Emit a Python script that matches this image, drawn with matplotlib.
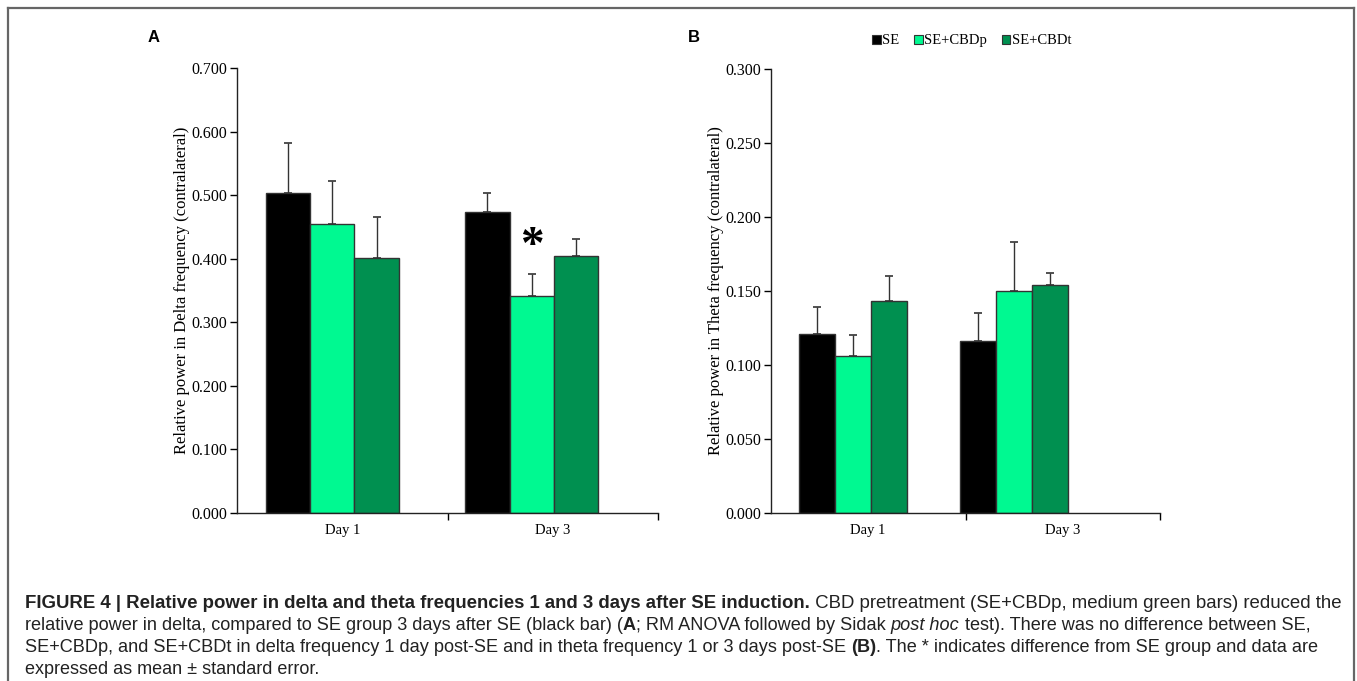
import matplotlib
matplotlib.use('Agg')
import matplotlib.pyplot as plt
from matplotlib.lines import Line2D
from matplotlib.patches import Patch
import numpy as np

# data
days = ['Day 1', 'Day 3']
groups = ['SE', 'SE+CBDp', 'SE+CBDt']
colors = ['#000000', '#00f991', '#009050']

delta_mean = [[0.503, 0.474], [0.454, 0.341], [0.401, 0.405]]
delta_err = [[0.079, 0.029], [0.068, 0.035], [0.064, 0.026]]

theta_mean = [[0.121, 0.116], [0.106, 0.150], [0.143, 0.154]]
theta_err = [[0.018, 0.019], [0.014, 0.033], [0.017, 0.008]]

fig = plt.figure(figsize=(13.57, 6.81), dpi=100)

serif = 'Liberation Serif'
sans = 'Liberation Sans'


def draw_panel(ax, means, errs, ymax, step, ylabel, offsets, width):
    x = np.arange(len(days))
    for i, g in enumerate(groups):
        pos = x + np.array(offsets) + (i - 1) * width
        ax.bar(pos, means[i], width=width, color=colors[i], edgecolor='#333333',
               linewidth=1.0, label=g, zorder=2)
        ax.errorbar(pos, means[i], yerr=[np.zeros(len(days)), errs[i]], fmt='none',
                    ecolor='#333333', elinewidth=1.0, capsize=3, capthick=1.2, zorder=1)
    ax.set_xlim(-0.5, 1.5)
    ax.set_ylim(0, ymax)
    ax.set_yticks(np.arange(0, ymax + step / 2, step))
    ax.set_yticklabels(['%.3f' % v for v in np.arange(0, ymax + step / 2, step)],
                       fontfamily=serif, fontsize=11.5)
    ax.set_xticks(x)
    ax.set_xticklabels(days, fontfamily=serif, fontsize=10.5)
    ax.set_xticks([0.5, 1.5], minor=True)
    ax.tick_params(axis='x', which='major', length=0, pad=8)
    ax.tick_params(axis='x', which='minor', length=5, direction='out', width=1)
    ax.tick_params(axis='y', length=5, direction='out', width=1, pad=2)
    for s in ['top', 'right']:
        ax.spines[s].set_visible(False)
    for s in ['left', 'bottom']:
        ax.spines[s].set_linewidth(1.0)
        ax.spines[s].set_color('#222222')
    ax.set_ylabel(ylabel, fontfamily=serif, fontsize=12, labelpad=1)
    return x


axA = fig.add_axes([0.1747, 0.2467, 0.3102, 0.6535])
xA = draw_panel(axA, delta_mean, delta_err, 0.7, 0.1,
                'Relative power in Delta frequency (contralateral)', [-0.048, -0.10], 0.211)
# significance mark over SE+CBDp day 3
axA.text(xA[1] - 0.10, 0.418, '*', fontsize=34, fontfamily=serif, fontweight='bold',
         ha='center', va='center')

axB = fig.add_axes([0.568, 0.2467, 0.287, 0.652])
draw_panel(axB, theta_mean, theta_err, 0.3, 0.05,
           'Relative power in Theta frequency (contralateral)', [-0.08, -0.25], 0.185)

handles = [Patch(facecolor=c, edgecolor='#333333', linewidth=0.8) for c in colors]
fig.legend(handles, groups, loc='center', bbox_to_anchor=(0.716, 0.94), ncol=3, frameon=False,
           prop={'family': serif, 'size': 10.5}, handlelength=0.6, handleheight=0.6,
           handletextpad=0.1, columnspacing=1.0)

fig.text(148 / 1357, 1 - 38 / 681, 'A', fontfamily=sans, fontweight='bold', fontsize=12,
         ha='left', va='center')
fig.text(688 / 1357, 1 - 38 / 681, 'B', fontfamily=sans, fontweight='bold', fontsize=12,
         ha='left', va='center')

# frame around the figure
W, H = 1357, 681
for xs, ys in [((8, 1354), (8, 8)), ((8, 8), (8, 681)), ((1354, 1354), (8, 681))]:
    fig.add_artist(Line2D([v / W for v in xs], [1 - v / H for v in ys], color='#666666',
                          linewidth=1.6, transform=fig.transFigure))

# caption with mixed styles
caption = [
    [('FIGURE 4 | Relative power in delta and theta frequencies 1 and 3 days after SE induction.', 'bold', 'normal'),
     (' CBD pretreatment (SE+CBDp, medium green bars) reduced the', 'normal', 'normal')],
    [('relative power in delta, compared to SE group 3 days after SE (black bar) (', 'normal', 'normal'),
     ('A', 'bold', 'normal'),
     ('; RM ANOVA followed by Sidak ', 'normal', 'normal'),
     ('post hoc', 'normal', 'italic'),
     (' test). There was no difference between SE,', 'normal', 'normal')],
    [('SE+CBDp, and SE+CBDt in delta frequency 1 day post-SE and in theta frequency 1 or 3 days post-SE ', 'normal', 'normal'),
     ('(B)', 'bold', 'normal'),
     ('. The * indicates difference from SE group and data are', 'normal', 'normal')],
    [('expressed as mean \u00b1 standard error.', 'normal', 'normal')],
]
line_y = [603, 626, 648, 670]
line_end = [1340, 1312, 1318, None]
renderer = fig.canvas.get_renderer()


def put_line(line, yy, size):
    xpix = 25
    arts = []
    for txt, weight, style in line:
        t = fig.text(xpix / W, 1 - yy / H, txt, fontfamily=sans, fontsize=size,
                     fontweight=weight, fontstyle=style, color='#222222', va='center', ha='left')
        xpix += t.get_window_extent(renderer=renderer).width
        arts.append(t)
    return arts, xpix


base = 13.0
for line, yy, end in zip(caption, line_y, line_end):
    arts, xend = put_line(line, yy, base)
    if end is not None:
        for a in arts:
            a.remove()
        put_line(line, yy, base * (end - 25) / (xend - 25))

fig.savefig('out.png', dpi=100)
